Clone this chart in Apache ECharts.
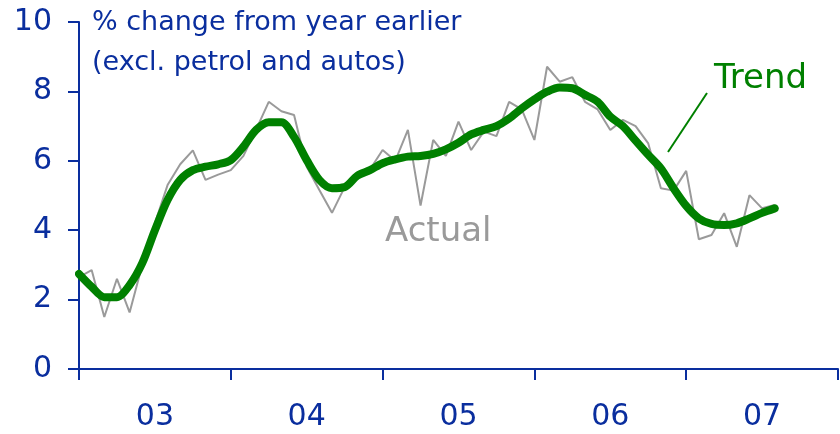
<!DOCTYPE html>
<html>
<head>
<meta charset="utf-8">
<script src="https://cdn.jsdelivr.net/npm/echarts@6/dist/echarts.min.js"></script>
<style>
  html, body { margin: 0; padding: 0; background: #fff; }
  #chart { width: 840px; height: 434px; }
</style>
</head>
<body>
<div id="chart"></div>
<script>
// monthly, starting Jan 2003 (index 0)
const yearLabels = ['03', '04', '05', '06', '07']

const actual = [
  2.65, 2.85, 1.5, 2.6, 1.63, 3.0, 4.2, 5.3, 5.9, 6.3, 5.45, 5.6,
  5.73, 6.14, 6.9, 7.7, 7.43, 7.32, 5.83, 5.16, 4.5, 5.24, 5.6, 5.75,
  6.31, 6.0, 6.89, 4.71, 6.6, 6.14, 7.13, 6.31, 6.84, 6.71, 7.7, 7.48,
  6.6, 8.71, 8.28, 8.41, 7.7, 7.48, 6.89, 7.18, 7.0, 6.5, 5.21, 5.14,
  5.71, 3.74, 3.86, 4.49, 3.52, 5.01, 4.63, 4.73
]

const trend = [
  2.74, 2.37, 2.07, 2.07, 2.42, 3.05, 4.0, 4.87, 5.45, 5.73, 5.83, 5.9,
  6.02, 6.41, 6.89, 7.11, 7.11, 6.69, 6.02, 5.45, 5.21, 5.24, 5.57, 5.73,
  5.93, 6.04, 6.12, 6.14, 6.2, 6.33, 6.52, 6.76, 6.89, 7.0, 7.22, 7.51,
  7.77, 7.99, 8.11, 8.09, 7.9, 7.7, 7.27, 7.0, 6.58, 6.17, 5.78, 5.21,
  4.7, 4.34, 4.18, 4.15, 4.2, 4.34, 4.5, 4.63
]

const blue = '#0a2e9e'
const font = 'DejaVu Sans'

const chart = echarts.init(document.getElementById('chart'))
chart.setOption({
  backgroundColor: '#fff',
  animation: false,
  grid: { left: 79, right: 2, top: 22, bottom: 65 },
  xAxis: [{
    type: 'value',
    min: 0,
    max: 60,
    interval: 12,
    axisLine: { lineStyle: { color: blue, width: 2 } },
    axisTick: { length: 11, lineStyle: { color: blue, width: 2 } },
    axisLabel: { show: false },
    splitLine: { show: false }
  }, {
    type: 'category',
    position: 'bottom',
    data: yearLabels,
    boundaryGap: true,
    axisLine: { show: false },
    axisTick: { show: false },
    axisLabel: { color: blue, fontSize: 30, fontFamily: font, margin: 33 }
  }],
  yAxis: {
    type: 'value',
    min: 0,
    max: 10,
    interval: 2,
    axisLine: { show: true, lineStyle: { color: blue, width: 2 } },
    axisTick: { show: true, length: 11, lineStyle: { color: blue, width: 2 } },
    axisLabel: { color: blue, fontSize: 30, fontFamily: font, margin: 27 },
    splitLine: { show: false }
  },
  series: [{
    name: 'Actual',
    type: 'line',
    xAxisIndex: 0,
    data: actual.map((v, i) => [i, v]),
    symbol: 'none',
    lineStyle: { color: '#9a9a9a', width: 2 },
    z: 2
  }, {
    name: 'Trend',
    type: 'line',
    xAxisIndex: 0,
    data: trend.map((v, i) => [i, v]),
    symbol: 'none',
    smooth: 0.3,
    lineStyle: { color: '#008000', width: 8, cap: 'round', join: 'round' },
    z: 3
  }],
  graphic: [
    { type: 'text', style: { x: 92, y: 23, verticalAlign: 'middle', text: '% change from year earlier', fill: blue, font: '27px "DejaVu Sans"' } },
    { type: 'text', style: { x: 92, y: 63, verticalAlign: 'middle', text: '(excl. petrol and autos)', fill: blue, font: '27px "DejaVu Sans"' } },
    { type: 'text', style: { x: 385, y: 232, verticalAlign: 'middle', text: 'Actual', fill: '#9a9a9a', font: '34px "DejaVu Sans"' } },
    { type: 'text', style: { x: 714, y: 79, verticalAlign: 'middle', text: 'Trend', fill: '#008000', font: '34px "DejaVu Sans"' } },
    { type: 'line', shape: { x1: 668, y1: 152, x2: 707, y2: 93 }, style: { stroke: '#008000', lineWidth: 2 } }
  ]
})
</script>
</body>
</html>
